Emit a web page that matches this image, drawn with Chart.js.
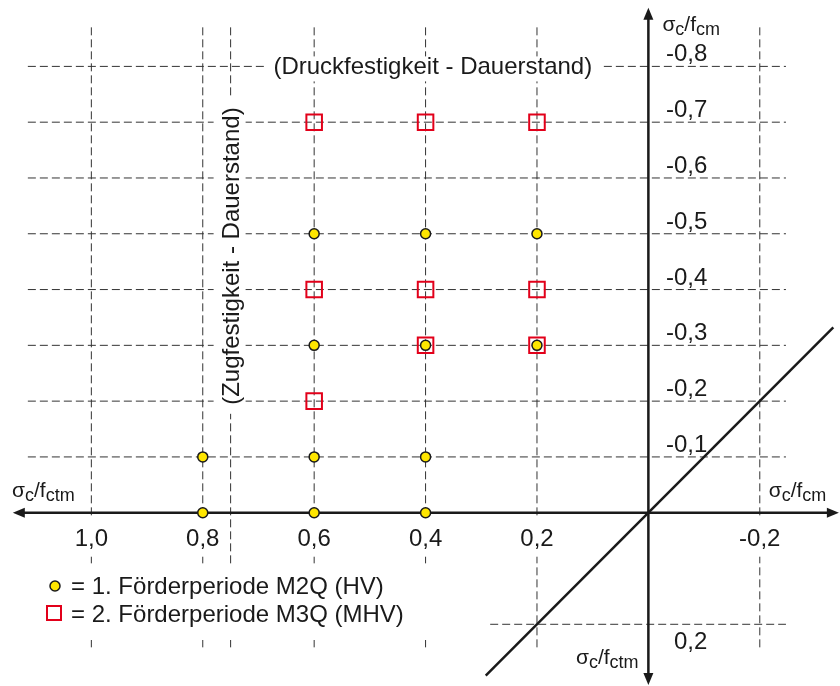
<!DOCTYPE html>
<html lang="de">
<head>
<meta charset="UTF-8" />
<title>Spannungsniveaus Dauerstand</title>
<script src="https://cdn.jsdelivr.net/npm/chart.js"></script>
<style>
  html, body { margin: 0; padding: 0; background: #fff; overflow: hidden; }
  canvas { display: block; }
</style>
</head>
<body>
<canvas id="chart" width="840" height="686"></canvas>
<script>
// 1. Förderperiode M2Q (HV)
const m2qX = [0.8, 0.6, 0.4, 0.8, 0.6, 0.4, 0.6, 0.4, 0.2, 0.6, 0.4, 0.2];
const m2qY = [0, 0, 0, -0.1, -0.1, -0.1, -0.3, -0.3, -0.3, -0.5, -0.5, -0.5];

// 2. Förderperiode M3Q (MHV)
const m3qX = [0.6, 0.6, 0.4, 0.2, 0.4, 0.2, 0.6, 0.4, 0.2];
const m3qY = [-0.2, -0.4, -0.4, -0.4, -0.3, -0.3, -0.7, -0.7, -0.7];

// Winkelhalbierende
const diagX = [0.292, -0.332];
const diagY = [0.292, -0.332];

// Raster und Beschriftung
const gridX = [1.0, 0.8, 0.75, 0.6, 0.4, 0.2, -0.2];
const gridY = [-0.8, -0.7, -0.6, -0.5, -0.4, -0.3, -0.2, -0.1, 0.2];
const tickX = [1.0, 0.8, 0.6, 0.4, 0.2, -0.2];
const tickY = [-0.8, -0.7, -0.6, -0.5, -0.4, -0.3, -0.2, -0.1, 0.2];

const FONT = "'Liberation Sans', Arial, sans-serif";
const INK = "#1a1a1a";

const toPoints = (xs, ys) => xs.map((v, i) => ({ x: v, y: ys[i] }));
const fmt = v => v.toFixed(1).replace(".", ",");

function subLabel(ctx, parts, x, y) {
  let cx = x;
  ctx.textAlign = "left";
  ctx.textBaseline = "alphabetic";
  parts.forEach(([txt, sub]) => {
    ctx.font = (sub ? "18px " : "21px ") + FONT;
    ctx.fillText(txt, cx, sub ? y + 4 : y);
    cx += ctx.measureText(txt).width;
  });
}

function arrow(ctx, x, y, dx, dy) {
  // Pfeilspitze in Richtung (dx, dy)
  const len = 12, half = 5;
  ctx.beginPath();
  ctx.moveTo(x, y);
  ctx.lineTo(x - dx * len - dy * half, y - dy * len + dx * half);
  ctx.lineTo(x - dx * len + dy * half, y - dy * len - dx * half);
  ctx.closePath();
  ctx.fill();
}

const diagramPlugin = {
  id: "diagram",
  beforeDatasetsDraw(chart) {
    const { ctx } = chart;
    const xs = chart.scales.x, ys = chart.scales.y;
    const px = v => xs.getPixelForValue(v);
    const py = v => ys.getPixelForValue(v);
    const x0 = px(0), y0 = py(0);

    ctx.save();

    // gestricheltes Raster
    ctx.strokeStyle = "#333";
    ctx.lineWidth = 1;
    ctx.setLineDash([8, 4]);
    gridX.forEach(v => {
      ctx.beginPath();
      ctx.moveTo(px(v), py(-0.87));
      ctx.lineTo(px(v), py(0.243));
      ctx.stroke();
    });
    gridY.forEach(v => {
      // unterhalb der Achse nur im rechten Bereich
      const from = v > 0 ? 0.284 : 1.114;
      ctx.beginPath();
      ctx.moveTo(px(from), py(v));
      ctx.lineTo(px(-0.247), py(v));
      ctx.stroke();
    });
    ctx.setLineDash([]);

    ctx.fillStyle = "#fff";
    ctx.font = "24px " + FONT;

    // Druckfestigkeit - Dauerstand
    const dText = "(Druckfestigkeit - Dauerstand)";
    const dW = ctx.measureText(dText).width;
    const dCx = px(0.387), dY = py(-0.8);
    ctx.fillRect(dCx - dW / 2 - 9, dY - 10, dW + 18, 25);
    ctx.fillStyle = INK;
    ctx.textAlign = "center";
    ctx.textBaseline = "alphabetic";
    ctx.fillText(dText, dCx, dY + 8);

    // Zugfestigkeit - Dauerstand (senkrecht)
    const zText = "(Zugfestigkeit - Dauerstand)";
    const zW = ctx.measureText(zText).width;
    const zX = px(0.75), zCy = py(-0.46);
    ctx.fillStyle = "#fff";
    ctx.fillRect(zX - 17, zCy - zW / 2 - 9, 32, zW + 18);
    ctx.save();
    ctx.translate(zX, zCy);
    ctx.rotate(-Math.PI / 2);
    ctx.fillStyle = INK;
    ctx.fillText(zText, 0, 8);
    ctx.restore();

    // Achsbeschriftung x
    tickX.forEach(v => {
      const t = fmt(v);
      const w = ctx.measureText(t).width;
      ctx.fillStyle = "#fff";
      ctx.fillRect(px(v) - w / 2 - 5, y0 + 6, w + 10, 38);
      ctx.fillStyle = INK;
      ctx.textAlign = "center";
      ctx.fillText(t, px(v), y0 + 33.5);
    });

    // Achsbeschriftung y
    ctx.textAlign = "right";
    tickY.forEach(v => {
      ctx.fillText(fmt(v), x0 + 59, v < 0 ? py(v) - 5 : py(v) + 25);
    });

    // Legende
    ctx.fillStyle = "#fff";
    ctx.fillRect(30, 567, 410, 73);
    ctx.fillStyle = INK;
    ctx.textAlign = "left";
    ctx.fillText("= 1. Förderperiode M2Q (HV)", 71, 594);
    ctx.fillText("= 2. Förderperiode M3Q (MHV)", 71, 621.5);
    ctx.beginPath();
    ctx.arc(55, 586, 5, 0, Math.PI * 2);
    ctx.fillStyle = "#ffe600";
    ctx.fill();
    ctx.lineWidth = 1.5;
    ctx.strokeStyle = INK;
    ctx.stroke();
    ctx.strokeStyle = "#e2001a";
    ctx.lineWidth = 2;
    ctx.strokeRect(47, 606, 14, 14);

    // Achsen mit Pfeilen
    ctx.strokeStyle = INK;
    ctx.fillStyle = INK;
    ctx.lineWidth = 2.5;
    const l = px(1.141), r = px(-0.342), t = py(-0.905), b = py(0.309);
    ctx.beginPath();
    ctx.moveTo(l + 6, y0);
    ctx.lineTo(r - 6, y0);
    ctx.moveTo(x0, t + 6);
    ctx.lineTo(x0, b - 6);
    ctx.stroke();
    arrow(ctx, l, y0, -1, 0);
    arrow(ctx, r, y0, 1, 0);
    arrow(ctx, x0, t, 0, -1);
    arrow(ctx, x0, b, 0, 1);

    // Größenbezeichnungen
    subLabel(ctx, [["σ", false], ["c", true], ["/f", false], ["cm", true]], x0 + 14, py(-0.863));
    subLabel(ctx, [["σ", false], ["c", true], ["/f", false], ["cm", true]], px(-0.216), y0 - 16);
    subLabel(ctx, [["σ", false], ["c", true], ["/f", false], ["ctm", true]], 12, y0 - 16);
    subLabel(ctx, [["σ", false], ["c", true], ["/f", false], ["ctm", true]], px(0.13), py(0.272));

    ctx.restore();
  }
};

new Chart(document.getElementById("chart"), {
  type: "scatter",
  data: {
    datasets: [
      {
        label: "1. Förderperiode M2Q (HV)",
        data: toPoints(m2qX, m2qY),
        pointStyle: "circle",
        pointRadius: 5,
        pointBackgroundColor: "#ffe600",
        pointBorderColor: INK,
        pointBorderWidth: 1.5
      },
      {
        label: "2. Förderperiode M3Q (MHV)",
        data: toPoints(m3qX, m3qY),
        pointStyle: "rect",
        pointRadius: 11,
        pointBackgroundColor: "rgba(0,0,0,0)",
        pointBorderColor: "#e2001a",
        pointBorderWidth: 2
      },
      {
        type: "line",
        label: "Winkelhalbierende",
        data: toPoints(diagX, diagY),
        borderColor: INK,
        borderWidth: 2.5,
        pointRadius: 0,
        fill: false
      }
    ]
  },
  options: {
    responsive: false,
    animation: false,
    layout: { padding: 0, autoPadding: false },
    plugins: {
      legend: { display: false },
      tooltip: { enabled: false }
    },
    scales: {
      x: { type: "linear", reverse: true, min: -0.344, max: 1.164, display: false },
      y: { type: "linear", reverse: true, min: -0.919, max: 0.3106, display: false }
    }
  },
  plugins: [diagramPlugin]
});
</script>
</body>
</html>
